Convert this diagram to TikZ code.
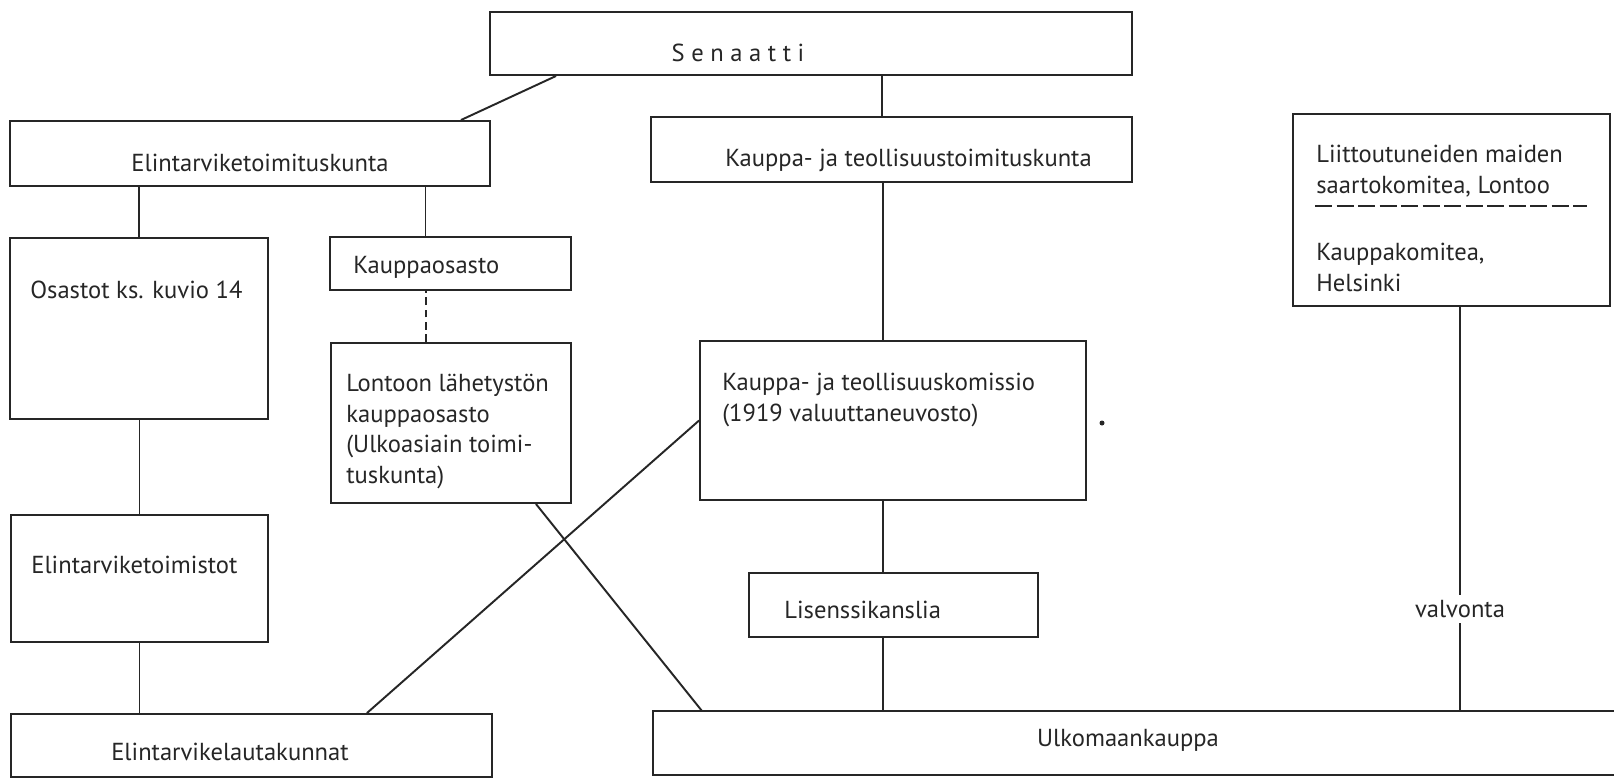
\documentclass[tikz,border=0pt]{standalone}
\usepackage{fontspec}
\setmainfont{PT Sans}
\usepackage{tikz}
\usetikzlibrary{calc}

\tikzset{
  box/.style={draw=black!85, line width=1.1pt, inner sep=0pt},
  openbox/.style={inner sep=0pt},
  lbl/.style={inner sep=0pt, anchor=west, align=left, text=black!85},
  link/.style={draw=black!85, line width=1.1pt}
}

\begin{document}
\begin{tikzpicture}[x=0.02cm,y=-0.02cm,font=\fontsize{14}{17.6}\selectfont]
\useasboundingbox[fill=white] (0,0) rectangle (1614,779);
% boxes
\node[box, minimum width=12.84cm, minimum height=1.26cm] (senaatti) at (811,43.5) {};
\node[box, minimum width=9.60cm, minimum height=1.30cm] (elin) at (250,153.5) {};
\node[box, minimum width=9.62cm, minimum height=1.30cm] (kauppatk) at (891.5,149.5) {};
\node[box, minimum width=6.34cm, minimum height=3.84cm] (liitto) at (1451.5,210) {};
\node[box, minimum width=5.16cm, minimum height=3.62cm] (osastot) at (139,328.5) {};
\node[box, minimum width=4.82cm, minimum height=1.06cm] (kosasto) at (450.5,263.5) {};
\node[box, minimum width=4.80cm, minimum height=3.20cm] (lontoo) at (451,423) {};
\node[box, minimum width=7.72cm, minimum height=3.18cm] (komissio) at (893,420.5) {};
\node[box, minimum width=5.14cm, minimum height=2.54cm] (toimistot) at (139.5,578.5) {};
\node[box, minimum width=5.78cm, minimum height=1.28cm] (lisenssi) at (893.5,605) {};
\node[box, minimum width=9.62cm, minimum height=1.26cm] (lauta) at (251.5,745.5) {};
\node[openbox, minimum width=19.22cm, minimum height=1.28cm] (ulko) at (1133.5,743) {};
\draw[link] (ulko.north east) -- (ulko.north west) -- (ulko.south west) -- (ulko.south east);

% texts
\node[lbl, anchor=center] (t-senaatti) at (738,53) {S e n a a t t i};
\node[lbl, anchor=center] (t-elin) at (260,163) {Elintarviketoimituskunta};
\node[lbl] (t-kauppatk) at (725,160) {Kauppa- ja teollisuustoimituskunta};
\node[lbl] (t-liitto) at (1316,171.5) {Liittoutuneiden maiden\\saartokomitea, Lontoo};
\node[lbl] (t-komitea) at (1316,267) {Kauppakomitea,\\Helsinki};
\node[lbl] (t-osastot) at (30,290) {Osastot ks. kuvio 14};
\node[lbl] (t-kosasto) at (353,267) {Kauppaosasto};
\node[lbl] (t-lontoo) at (346,431.5) {Lontoon lähetystön\\kauppaosasto\\(Ulkoasiain toimi-\\tuskunta)};
\node[lbl] (t-komissio) at (722,400) {Kauppa- ja teollisuuskomissio\\(1919 valuuttaneuvosto)};
\node[lbl] (t-toimistot) at (31,565) {Elintarviketoimistot};
\node[lbl] (t-lisenssi) at (784,610) {Lisenssikanslia};
\node[lbl, anchor=center] (t-lauta) at (230,752) {Elintarvikelautakunnat};
\node[lbl, anchor=center] (t-ulko) at (1128,740) {Ulkomaankauppa};

% connectors
\draw[link] ([xshift=1.34cm]senaatti.south west) -- ([xshift=-0.6cm]elin.north east);
\draw[link] ([xshift=-0.19cm]kauppatk.north) coordinate (c1) -- (c1 |- senaatti.south);
\draw[link] (osastot.north) -- (osastot.north |- elin.south);
\draw[link] ([xshift=-0.5cm]kosasto.north) coordinate (c2) -- (c2 |- elin.south);
\draw[link, dash pattern=on 4.5pt off 2.5pt] ([xshift=-0.5cm]lontoo.north) coordinate (c3) -- (c3 |- kosasto.south);
\draw[link] (toimistot.north) -- (toimistot.north |- osastot.south);
\draw[link] (toimistot.south) -- (toimistot.south |- lauta.north);
\draw[link] ([xshift=-0.2cm]komissio.north) coordinate (c4) -- (c4 |- kauppatk.south);
\draw[link] ([xshift=-0.2cm]komissio.south) coordinate (c5) -- (c5 |- lisenssi.north);
\draw[link] ([xshift=-0.21cm]lisenssi.south) coordinate (c6) -- (c6 |- ulko.north);
\draw[link] ([xshift=-0.72cm]lontoo.south east) -- ([xshift=0.98cm]ulko.north west);
\draw[link] (komissio.west) -- ([xshift=-2.52cm]lauta.north east);
\draw[link] ([xshift=0.17cm]liitto.south) coordinate (c7) -- (c7 |- ulko.north)
  node[pos=0.748, fill=white, inner xsep=1pt, inner ysep=3pt, text=black!85] (t-valvonta) {valvonta};

% dashed divider and stray dot
\draw[link, line width=0.8pt, dash pattern=on 0.34cm off 0.09cm] ($(liitto.north west)+(23,93)$) -- ($(liitto.north east)+(-24,93)$);
\fill[black!85] (1102,423) circle (0.05cm);
\end{tikzpicture}
\end{document}
